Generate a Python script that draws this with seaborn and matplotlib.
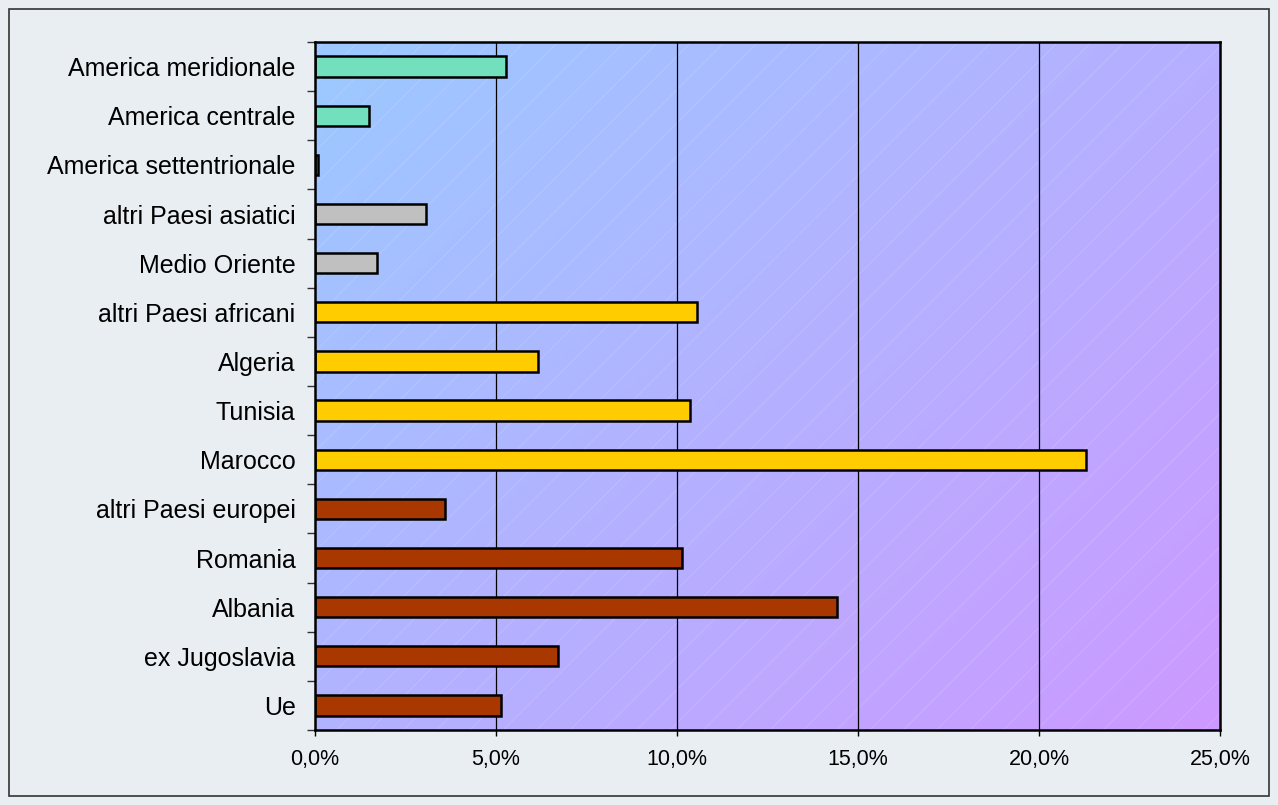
import numpy as np
import pandas as pd
import seaborn as sns
import matplotlib.pyplot as plt
from matplotlib.colors import LinearSegmentedColormap
from matplotlib.patches import Rectangle
from matplotlib.ticker import FuncFormatter, FixedLocator

categories = ["America meridionale", "America centrale", "America settentrionale",
              "altri Paesi asiatici", "Medio Oriente", "altri Paesi africani",
              "Algeria", "Tunisia", "Marocco", "altri Paesi europei",
              "Romania", "Albania", "ex Jugoslavia", "Ue"]
values = [5.27, 1.49, 0.09, 3.07, 1.70, 10.55, 6.16, 10.37, 21.31, 3.58,
          10.14, 14.43, 6.70, 5.15]
groups = ["America"] * 3 + ["Asia"] * 2 + ["Africa"] * 4 + ["Europa"] * 5
group_colors = {"America": "#72E0BC", "Asia": "#C0C0C0",
                "Africa": "#FFCC00", "Europa": "#A83800"}
x_ticks = [0, 5, 10, 15, 20, 25]

df = pd.DataFrame({"paese": categories, "quota": values, "gruppo": groups})

sns.set_style("white")
plt.rcParams["font.family"] = ["Liberation Sans", "DejaVu Sans"]
plt.rcParams["text.color"] = "black"

fig = plt.figure(figsize=(12.78, 8.05), dpi=100, facecolor="#E9EEF2")
ax = fig.add_axes([315 / 1278, 1 - 730 / 805, 905 / 1278, 688 / 805])

# gradient background
cmap = LinearSegmentedColormap.from_list("bg", ["#9CC9FF", "#CC99FF"])
gx, gy = np.meshgrid(np.linspace(0, 1, 300), np.linspace(0, 1, 300))
grad = (gx * 0.55 + gy * 0.45)
ax.imshow(grad, cmap=cmap, extent=[0, 1, 0, 1], transform=ax.transAxes,
          aspect="auto", zorder=0, origin="upper")
plt.rcParams["hatch.linewidth"] = 0.5
ax.add_patch(Rectangle((0, 0), 1, 1, transform=ax.transAxes, fill=False,
                       hatch="/", edgecolor=(1, 1, 1, 0.2), linewidth=0, zorder=0.5))

sns.barplot(data=df, y="paese", x="quota", hue="gruppo", palette=group_colors,
            dodge=False, width=0.41, edgecolor="black", linewidth=1.8,
            saturation=1, legend=False, ax=ax, zorder=3)

ax.set_xlim(0, 25)
ax.set_ylim(len(categories) - 0.5, -0.5)
ax.set_xticks(x_ticks)
ax.xaxis.set_major_formatter(FuncFormatter(lambda v, p: f"{v:.1f}%".replace(".", ",")))
for v in x_ticks[1:-1]:
    ax.axvline(v, color="black", linewidth=0.9, zorder=1)

ax.set_xlabel("")
ax.set_ylabel("")
ax.tick_params(axis="x", length=4, width=1, direction="out", pad=10,
               labelsize=15.5, colors="black", labelcolor="black", bottom=True)
ax.tick_params(axis="y", which="major", length=0, pad=14, labelsize=18,
               labelcolor="black")
ax.yaxis.set_minor_locator(FixedLocator(np.arange(-0.5, len(categories), 1)))
ax.tick_params(axis="y", which="minor", length=6, width=1, color="#333333", left=True)
for s in ax.spines.values():
    s.set_color("black")
    s.set_linewidth(1.8)
    s.set_zorder(4)

fig.patches.append(Rectangle((9 / 1278, 9 / 805), 1260 / 1278, 787 / 805,
                             transform=fig.transFigure, fill=False,
                             edgecolor="#333333", linewidth=1.2))

fig.savefig("out.png", dpi=100, facecolor=fig.get_facecolor())
